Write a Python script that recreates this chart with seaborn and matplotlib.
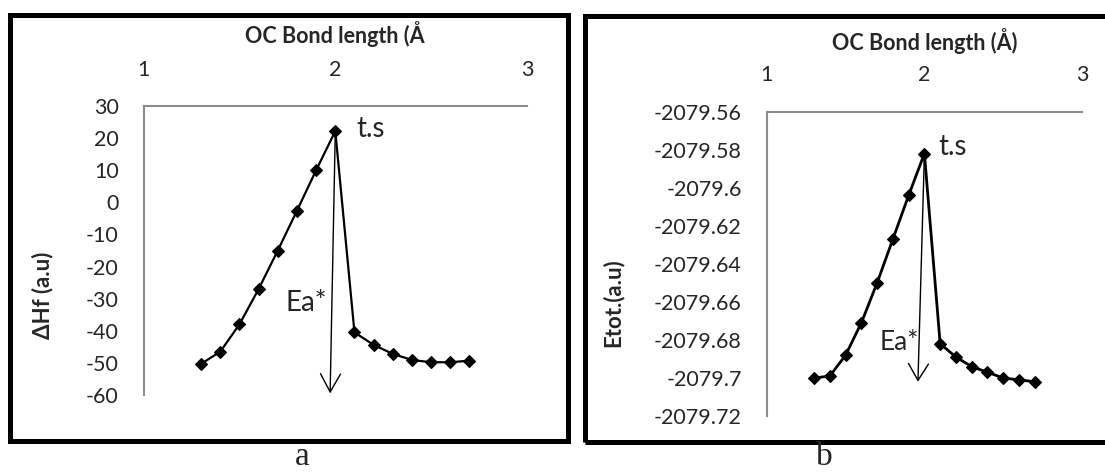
import matplotlib
matplotlib.use("Agg")
import matplotlib.pyplot as plt
import matplotlib.ticker as mticker
from matplotlib.patches import Rectangle
import seaborn as sns

# OC bond length (Angstrom) scan
bond_length = [1.3, 1.4, 1.5, 1.6, 1.7, 1.8, 1.9, 2.0, 2.1, 2.2, 2.3, 2.4, 2.5, 2.6, 2.7]
# panel a: heat of formation
delta_hf = [-50.3, -46.5, -38.0, -27.0, -15.0, -2.6, 10.0, 22.2,
            -40.5, -44.4, -47.2, -49.1, -49.8, -49.8, -49.3]
# panel b: total energy
etot = [-2079.700, -2079.699, -2079.688, -2079.671, -2079.650, -2079.627, -2079.604, -2079.582,
        -2079.682, -2079.689, -2079.694, -2079.697, -2079.700, -2079.701, -2079.702]

x_ticks = [1, 2, 3]
hf_ticks = [30, 20, 10, 0, -10, -20, -30, -40, -50, -60]
etot_ticks = [-2079.56, -2079.58, -2079.6, -2079.62, -2079.64, -2079.66,
              -2079.68, -2079.7, -2079.72]

sns.set_style("white")
plt.rcParams['font.family'] = ['Lato', 'DejaVu Sans']
plt.rcParams['axes.unicode_minus'] = False

W, H = 1105, 472
fig = plt.figure(figsize=(W / 100, H / 100), dpi=100)


def px_axes(left, top, right, bottom):
    return fig.add_axes([left / W, 1 - bottom / H, (right - left) / W, (bottom - top) / H])


def style_axes(ax, ylim, yticks, title, ylabel, title_y, ylab_x, ylab_y):
    ax.set_xlim(1, 3)
    ax.set_ylim(*ylim)
    ax.set_xticks(x_ticks)
    ax.set_yticks(yticks)
    ax.xaxis.tick_top()
    ax.xaxis.set_label_position('top')
    for side in ['bottom', 'right']:
        ax.spines[side].set_visible(False)
    for side in ['top', 'left']:
        ax.spines[side].set_color('#8c8c8c')
        ax.spines[side].set_linewidth(1.5)
    ax.tick_params(axis='x', length=0, pad=19, labelsize=15.5)
    ax.tick_params(axis='y', length=0, pad=18, labelsize=15.5)
    ax.set_xlabel(title, fontsize=15.5, fontweight='bold')
    ax.xaxis.set_label_coords(0.5, title_y)
    ax.set_ylabel(ylabel, fontsize=16, fontweight='bold')
    ax.yaxis.set_label_coords(ylab_x, ylab_y)
    ax.patch.set_alpha(0)


def fmt_general(v, pos):
    s = f"{v:.2f}".rstrip('0').rstrip('.')
    return "0" if s in ("-0", "") else s


# ---- panel a ----
ax1 = px_axes(143.6, 106, 527, 395)
sns.lineplot(x=bond_length, y=delta_hf, ax=ax1, color='black', linewidth=1.6,
             marker='D', markersize=6.5, markeredgecolor='black', markeredgewidth=0.8)
style_axes(ax1, (-60, 30), hf_ticks, 'OC Bond length (Å', 'ΔHf (a.u)',
           1.217, -0.236, 0.344)
ax1.yaxis.set_major_formatter(mticker.FuncFormatter(fmt_general))
ax1.annotate('', xy=(1.973, -59.5), xytext=(2.0, 22.2),
             arrowprops=dict(arrowstyle='->,head_length=0.65,head_width=0.36',
                             color='black', lw=1.0, mutation_scale=20, shrinkA=0, shrinkB=0))
ax1.text(2.11, 22.8, 't.s', fontsize=20, ha='left', va='center')
ax1.text(1.957, -31.3, 'Ea*', fontsize=20, ha='right', va='center')

# ---- panel b ----
ax2 = px_axes(766.8, 111.7, 1082, 416)
sns.lineplot(x=bond_length, y=etot, ax=ax2, color='black', linewidth=2.0,
             marker='D', markersize=6.5, markeredgecolor='black', markeredgewidth=0.8)
style_axes(ax2, (-2079.72, -2079.56), etot_ticks, 'OC Bond length (Å)', 'Etot.(a.u)',
           1.203, -0.453, 0.373)
ax2.yaxis.set_major_formatter(mticker.FuncFormatter(fmt_general))
ax2.annotate('', xy=(1.959, -2079.702), xytext=(2.0, -2079.582),
             arrowprops=dict(arrowstyle='->,head_length=0.6,head_width=0.36',
                             color='black', lw=1.0, mutation_scale=20, shrinkA=0, shrinkB=0))
ax2.text(2.088, -2079.5783, 't.s', fontsize=20, ha='left', va='center')
ax2.text(1.968, -2079.6814, 'Ea*', fontsize=19, ha='right', va='center')

# ---- panel frames and captions ----
fig.patches.append(Rectangle((9.5 / W, 1 - 440.5 / H), 558 / W, 425.5 / H,
                             transform=fig.transFigure, fill=False, lw=3.6,
                             edgecolor='black'))
fig.patches.append(Rectangle((584.5 / W, 1 - 441.5 / H), 530 / W, 426 / H,
                             transform=fig.transFigure, fill=False, lw=3.6,
                             edgecolor='black'))
fig.text(302 / W, 1 - 465 / H, 'a', fontsize=24, family='Liberation Serif',
         ha='center', va='baseline')
fig.text(824 / W, 1 - 465 / H, 'b', fontsize=24, family='Liberation Serif',
         ha='center', va='baseline')

fig.savefig('out.png', dpi=100)
